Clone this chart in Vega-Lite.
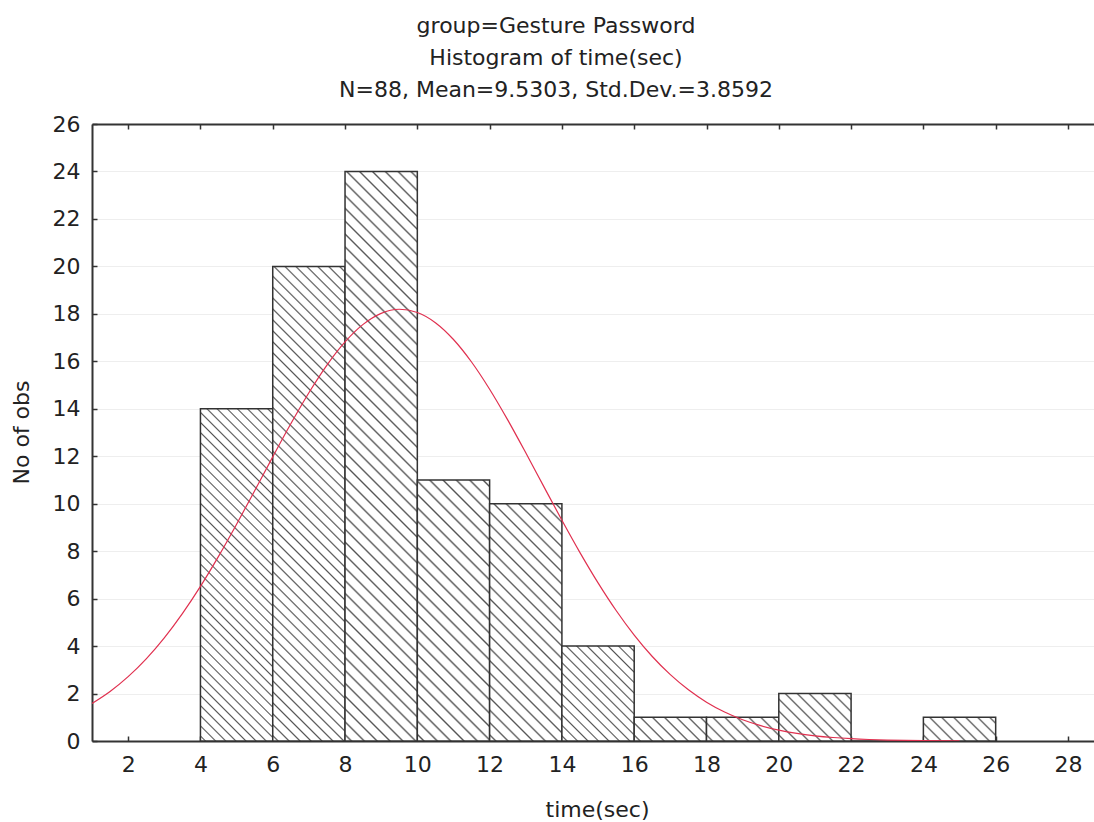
{
  "$schema": "https://vega.github.io/schema/vega-lite/v6.json",
  "width": 1002,
  "height": 617,
  "autosize": "none",
  "padding": {"left": 92, "top": 124, "right": 0, "bottom": 81},
  "background": "white",
  "config": {"view": {"stroke": null}, "font": "DejaVu Sans"},
  "title": {
    "text": ["group=Gesture Password", "Histogram of time(sec)", "N=88, Mean=9.5303, Std.Dev.=3.8592"],
    "anchor": "middle",
    "dx": -37,
    "fontSize": 22,
    "lineHeight": 32,
    "font": "DejaVu Sans",
    "fontWeight": "normal",
    "color": "#222222",
    "offset": 11
  },
  "datasets": {
    "bins": [
      {"bin_start": 4, "bin_end": 6, "count": 14},
      {"bin_start": 6, "bin_end": 8, "count": 20},
      {"bin_start": 8, "bin_end": 10, "count": 24},
      {"bin_start": 10, "bin_end": 12, "count": 11},
      {"bin_start": 12, "bin_end": 14, "count": 10},
      {"bin_start": 14, "bin_end": 16, "count": 4},
      {"bin_start": 16, "bin_end": 18, "count": 1},
      {"bin_start": 18, "bin_end": 20, "count": 1},
      {"bin_start": 20, "bin_end": 22, "count": 2},
      {"bin_start": 22, "bin_end": 24, "count": 0},
      {"bin_start": 24, "bin_end": 26, "count": 1}
    ],
    "curve": [
      {"time": 1, "fitted": 1.581}, {"time": 1.5, "fitted": 2.087}, {"time": 2, "fitted": 2.711},
      {"time": 2.5, "fitted": 3.461}, {"time": 3, "fitted": 4.346}, {"time": 3.5, "fitted": 5.367},
      {"time": 4, "fitted": 6.516}, {"time": 4.5, "fitted": 7.78}, {"time": 5, "fitted": 9.135},
      {"time": 5.5, "fitted": 10.546}, {"time": 6, "fitted": 11.973}, {"time": 6.5, "fitted": 13.367},
      {"time": 7, "fitted": 14.675}, {"time": 7.5, "fitted": 15.842}, {"time": 8, "fitted": 16.818},
      {"time": 8.5, "fitted": 17.556}, {"time": 9, "fitted": 18.022}, {"time": 9.5, "fitted": 18.193},
      {"time": 10, "fitted": 18.059}, {"time": 10.5, "fitted": 17.628}, {"time": 11, "fitted": 16.92},
      {"time": 11.5, "fitted": 15.971}, {"time": 12, "fitted": 14.824}, {"time": 12.5, "fitted": 13.531},
      {"time": 13, "fitted": 12.144}, {"time": 13.5, "fitted": 10.719}, {"time": 14, "fitted": 9.303},
      {"time": 14.5, "fitted": 7.94}, {"time": 15, "fitted": 6.664}, {"time": 15.5, "fitted": 5.499},
      {"time": 16, "fitted": 4.463}, {"time": 16.5, "fitted": 3.561}, {"time": 17, "fitted": 2.795},
      {"time": 17.5, "fitted": 2.157}, {"time": 18, "fitted": 1.637}, {"time": 18.5, "fitted": 1.221},
      {"time": 19, "fitted": 0.896}, {"time": 19.5, "fitted": 0.647}, {"time": 20, "fitted": 0.459},
      {"time": 20.5, "fitted": 0.32}, {"time": 21, "fitted": 0.22}, {"time": 21.5, "fitted": 0.148},
      {"time": 22, "fitted": 0.098}, {"time": 22.5, "fitted": 0.064}, {"time": 23, "fitted": 0.041},
      {"time": 24, "fitted": 0.016}, {"time": 25, "fitted": 0.006}
    ]
  },
  "layer": [
    {
      "data": {"name": "bins"},
      "mark": {"type": "rect", "stroke": "#333333", "strokeWidth": 1.5},
      "encoding": {
        "x": {
          "field": "bin_start", "type": "quantitative",
          "scale": {"domain": [1, 28.72], "nice": false, "zero": false},
          "axis": {
            "orient": "bottom",
            "values": [2, 4, 6, 8, 10, 12, 14, 16, 18, 20, 22, 24, 26, 28],
            "grid": false,
            "domainColor": "#333333", "domainWidth": 2,
            "tickColor": "#333333", "tickSize": -5, "tickWidth": 1.5,
            "labelFontSize": 22, "labelColor": "#222222", "labelPadding": 18,
            "labelFlush": false,
            "title": "time(sec)", "titleFontSize": 22, "titleFontWeight": "normal",
            "titleColor": "#222222", "titleX": 505, "titleY": 75, "titleBaseline": "alphabetic"
          }
        },
        "x2": {"field": "bin_end"},
        "y": {
          "field": "count", "type": "quantitative",
          "scale": {"domain": [0, 26], "nice": false},
          "axis": {
            "values": [0, 2, 4, 6, 8, 10, 12, 14, 16, 18, 20, 22, 24, 26],
            "grid": true, "gridColor": "#eeeeee", "gridWidth": 1,
            "domainColor": "#333333", "domainWidth": 2,
            "tickColor": "#333333", "tickSize": -5, "tickWidth": 1.5,
            "labelFontSize": 22, "labelColor": "#222222", "labelPadding": 17,
            "labelFlush": false,
            "title": "No of obs", "titleFontSize": 22, "titleFontWeight": "normal",
            "titleColor": "#222222", "titleX": -71, "titleY": 308, "titleAngle": -90,
            "titleBaseline": "middle", "titleAlign": "center"
          }
        },
        "fill": {
          "condition": [
            {"test": "datum.count === 24", "value": {"gradient": "linear", "x1": 0, "y1": 1, "x2": 0.14077, "y2": -0.10906, "stops": [
              {"offset":0.007,"color":"#fff"},{"offset":0.01,"color":"#555"},{"offset":0.013,"color":"#fff"},
              {"offset":0.027,"color":"#fff"},{"offset":0.03,"color":"#555"},{"offset":0.033,"color":"#fff"},
              {"offset":0.047,"color":"#fff"},{"offset":0.05,"color":"#555"},{"offset":0.053,"color":"#fff"},
              {"offset":0.067,"color":"#fff"},{"offset":0.07,"color":"#555"},{"offset":0.073,"color":"#fff"},
              {"offset":0.087,"color":"#fff"},{"offset":0.09,"color":"#555"},{"offset":0.093,"color":"#fff"},
              {"offset":0.107,"color":"#fff"},{"offset":0.11,"color":"#555"},{"offset":0.113,"color":"#fff"},
              {"offset":0.127,"color":"#fff"},{"offset":0.13,"color":"#555"},{"offset":0.133,"color":"#fff"},
              {"offset":0.147,"color":"#fff"},{"offset":0.15,"color":"#555"},{"offset":0.153,"color":"#fff"},
              {"offset":0.167,"color":"#fff"},{"offset":0.17,"color":"#555"},{"offset":0.173,"color":"#fff"},
              {"offset":0.187,"color":"#fff"},{"offset":0.19,"color":"#555"},{"offset":0.193,"color":"#fff"},
              {"offset":0.207,"color":"#fff"},{"offset":0.21,"color":"#555"},{"offset":0.213,"color":"#fff"},
              {"offset":0.227,"color":"#fff"},{"offset":0.23,"color":"#555"},{"offset":0.233,"color":"#fff"},
              {"offset":0.247,"color":"#fff"},{"offset":0.25,"color":"#555"},{"offset":0.253,"color":"#fff"},
              {"offset":0.267,"color":"#fff"},{"offset":0.27,"color":"#555"},{"offset":0.273,"color":"#fff"},
              {"offset":0.287,"color":"#fff"},{"offset":0.29,"color":"#555"},{"offset":0.293,"color":"#fff"},
              {"offset":0.307,"color":"#fff"},{"offset":0.31,"color":"#555"},{"offset":0.313,"color":"#fff"},
              {"offset":0.327,"color":"#fff"},{"offset":0.33,"color":"#555"},{"offset":0.333,"color":"#fff"},
              {"offset":0.347,"color":"#fff"},{"offset":0.35,"color":"#555"},{"offset":0.353,"color":"#fff"},
              {"offset":0.367,"color":"#fff"},{"offset":0.37,"color":"#555"},{"offset":0.373,"color":"#fff"},
              {"offset":0.387,"color":"#fff"},{"offset":0.39,"color":"#555"},{"offset":0.393,"color":"#fff"},
              {"offset":0.407,"color":"#fff"},{"offset":0.41,"color":"#555"},{"offset":0.413,"color":"#fff"},
              {"offset":0.427,"color":"#fff"},{"offset":0.43,"color":"#555"},{"offset":0.433,"color":"#fff"},
              {"offset":0.447,"color":"#fff"},{"offset":0.45,"color":"#555"},{"offset":0.453,"color":"#fff"},
              {"offset":0.467,"color":"#fff"},{"offset":0.47,"color":"#555"},{"offset":0.473,"color":"#fff"},
              {"offset":0.487,"color":"#fff"},{"offset":0.49,"color":"#555"},{"offset":0.493,"color":"#fff"},
              {"offset":0.507,"color":"#fff"},{"offset":0.51,"color":"#555"},{"offset":0.513,"color":"#fff"},
              {"offset":0.527,"color":"#fff"},{"offset":0.53,"color":"#555"},{"offset":0.533,"color":"#fff"},
              {"offset":0.547,"color":"#fff"},{"offset":0.55,"color":"#555"},{"offset":0.553,"color":"#fff"},
              {"offset":0.567,"color":"#fff"},{"offset":0.57,"color":"#555"},{"offset":0.573,"color":"#fff"},
              {"offset":0.587,"color":"#fff"},{"offset":0.59,"color":"#555"},{"offset":0.593,"color":"#fff"},
              {"offset":0.607,"color":"#fff"},{"offset":0.61,"color":"#555"},{"offset":0.613,"color":"#fff"},
              {"offset":0.627,"color":"#fff"},{"offset":0.63,"color":"#555"},{"offset":0.633,"color":"#fff"},
              {"offset":0.647,"color":"#fff"},{"offset":0.65,"color":"#555"},{"offset":0.653,"color":"#fff"},
              {"offset":0.667,"color":"#fff"},{"offset":0.67,"color":"#555"},{"offset":0.673,"color":"#fff"},
              {"offset":0.687,"color":"#fff"},{"offset":0.69,"color":"#555"},{"offset":0.693,"color":"#fff"},
              {"offset":0.707,"color":"#fff"},{"offset":0.71,"color":"#555"},{"offset":0.713,"color":"#fff"},
              {"offset":0.727,"color":"#fff"},{"offset":0.73,"color":"#555"},{"offset":0.733,"color":"#fff"},
              {"offset":0.747,"color":"#fff"},{"offset":0.75,"color":"#555"},{"offset":0.753,"color":"#fff"},
              {"offset":0.767,"color":"#fff"},{"offset":0.77,"color":"#555"},{"offset":0.773,"color":"#fff"},
              {"offset":0.787,"color":"#fff"},{"offset":0.79,"color":"#555"},{"offset":0.793,"color":"#fff"},
              {"offset":0.807,"color":"#fff"},{"offset":0.81,"color":"#555"},{"offset":0.813,"color":"#fff"},
              {"offset":0.827,"color":"#fff"},{"offset":0.83,"color":"#555"},{"offset":0.833,"color":"#fff"},
              {"offset":0.847,"color":"#fff"},{"offset":0.85,"color":"#555"},{"offset":0.853,"color":"#fff"},
              {"offset":0.867,"color":"#fff"},{"offset":0.87,"color":"#555"},{"offset":0.873,"color":"#fff"},
              {"offset":0.887,"color":"#fff"},{"offset":0.89,"color":"#555"},{"offset":0.893,"color":"#fff"},
              {"offset":0.907,"color":"#fff"},{"offset":0.91,"color":"#555"},{"offset":0.913,"color":"#fff"},
              {"offset":0.927,"color":"#fff"},{"offset":0.93,"color":"#555"},{"offset":0.933,"color":"#fff"},
              {"offset":0.947,"color":"#fff"},{"offset":0.95,"color":"#555"},{"offset":0.953,"color":"#fff"},
              {"offset":0.967,"color":"#fff"},{"offset":0.97,"color":"#555"},{"offset":0.973,"color":"#fff"},
              {"offset":0.987,"color":"#fff"},{"offset":0.99,"color":"#555"},{"offset":0.993,"color":"#fff"}
            ]}},
            {"test": "datum.count === 20", "value": {"gradient": "linear", "x1": 0, "y1": 1, "x2": 0.17153, "y2": -0.12618, "stops": [
              {"offset":0.007,"color":"#fff"},{"offset":0.01,"color":"#555"},{"offset":0.013,"color":"#fff"},
              {"offset":0.027,"color":"#fff"},{"offset":0.03,"color":"#555"},{"offset":0.033,"color":"#fff"},
              {"offset":0.047,"color":"#fff"},{"offset":0.05,"color":"#555"},{"offset":0.053,"color":"#fff"},
              {"offset":0.067,"color":"#fff"},{"offset":0.07,"color":"#555"},{"offset":0.073,"color":"#fff"},
              {"offset":0.087,"color":"#fff"},{"offset":0.09,"color":"#555"},{"offset":0.093,"color":"#fff"},
              {"offset":0.107,"color":"#fff"},{"offset":0.11,"color":"#555"},{"offset":0.113,"color":"#fff"},
              {"offset":0.127,"color":"#fff"},{"offset":0.13,"color":"#555"},{"offset":0.133,"color":"#fff"},
              {"offset":0.147,"color":"#fff"},{"offset":0.15,"color":"#555"},{"offset":0.153,"color":"#fff"},
              {"offset":0.167,"color":"#fff"},{"offset":0.17,"color":"#555"},{"offset":0.173,"color":"#fff"},
              {"offset":0.187,"color":"#fff"},{"offset":0.19,"color":"#555"},{"offset":0.193,"color":"#fff"},
              {"offset":0.207,"color":"#fff"},{"offset":0.21,"color":"#555"},{"offset":0.213,"color":"#fff"},
              {"offset":0.227,"color":"#fff"},{"offset":0.23,"color":"#555"},{"offset":0.233,"color":"#fff"},
              {"offset":0.247,"color":"#fff"},{"offset":0.25,"color":"#555"},{"offset":0.253,"color":"#fff"},
              {"offset":0.267,"color":"#fff"},{"offset":0.27,"color":"#555"},{"offset":0.273,"color":"#fff"},
              {"offset":0.287,"color":"#fff"},{"offset":0.29,"color":"#555"},{"offset":0.293,"color":"#fff"},
              {"offset":0.307,"color":"#fff"},{"offset":0.31,"color":"#555"},{"offset":0.313,"color":"#fff"},
              {"offset":0.327,"color":"#fff"},{"offset":0.33,"color":"#555"},{"offset":0.333,"color":"#fff"},
              {"offset":0.347,"color":"#fff"},{"offset":0.35,"color":"#555"},{"offset":0.353,"color":"#fff"},
              {"offset":0.367,"color":"#fff"},{"offset":0.37,"color":"#555"},{"offset":0.373,"color":"#fff"},
              {"offset":0.387,"color":"#fff"},{"offset":0.39,"color":"#555"},{"offset":0.393,"color":"#fff"},
              {"offset":0.407,"color":"#fff"},{"offset":0.41,"color":"#555"},{"offset":0.413,"color":"#fff"},
              {"offset":0.427,"color":"#fff"},{"offset":0.43,"color":"#555"},{"offset":0.433,"color":"#fff"},
              {"offset":0.447,"color":"#fff"},{"offset":0.45,"color":"#555"},{"offset":0.453,"color":"#fff"},
              {"offset":0.467,"color":"#fff"},{"offset":0.47,"color":"#555"},{"offset":0.473,"color":"#fff"},
              {"offset":0.487,"color":"#fff"},{"offset":0.49,"color":"#555"},{"offset":0.493,"color":"#fff"},
              {"offset":0.507,"color":"#fff"},{"offset":0.51,"color":"#555"},{"offset":0.513,"color":"#fff"},
              {"offset":0.527,"color":"#fff"},{"offset":0.53,"color":"#555"},{"offset":0.533,"color":"#fff"},
              {"offset":0.547,"color":"#fff"},{"offset":0.55,"color":"#555"},{"offset":0.553,"color":"#fff"},
              {"offset":0.567,"color":"#fff"},{"offset":0.57,"color":"#555"},{"offset":0.573,"color":"#fff"},
              {"offset":0.587,"color":"#fff"},{"offset":0.59,"color":"#555"},{"offset":0.593,"color":"#fff"},
              {"offset":0.607,"color":"#fff"},{"offset":0.61,"color":"#555"},{"offset":0.613,"color":"#fff"},
              {"offset":0.627,"color":"#fff"},{"offset":0.63,"color":"#555"},{"offset":0.633,"color":"#fff"},
              {"offset":0.647,"color":"#fff"},{"offset":0.65,"color":"#555"},{"offset":0.653,"color":"#fff"},
              {"offset":0.667,"color":"#fff"},{"offset":0.67,"color":"#555"},{"offset":0.673,"color":"#fff"},
              {"offset":0.687,"color":"#fff"},{"offset":0.69,"color":"#555"},{"offset":0.693,"color":"#fff"},
              {"offset":0.707,"color":"#fff"},{"offset":0.71,"color":"#555"},{"offset":0.713,"color":"#fff"},
              {"offset":0.727,"color":"#fff"},{"offset":0.73,"color":"#555"},{"offset":0.733,"color":"#fff"},
              {"offset":0.747,"color":"#fff"},{"offset":0.75,"color":"#555"},{"offset":0.753,"color":"#fff"},
              {"offset":0.767,"color":"#fff"},{"offset":0.77,"color":"#555"},{"offset":0.773,"color":"#fff"},
              {"offset":0.787,"color":"#fff"},{"offset":0.79,"color":"#555"},{"offset":0.793,"color":"#fff"},
              {"offset":0.807,"color":"#fff"},{"offset":0.81,"color":"#555"},{"offset":0.813,"color":"#fff"},
              {"offset":0.827,"color":"#fff"},{"offset":0.83,"color":"#555"},{"offset":0.833,"color":"#fff"},
              {"offset":0.847,"color":"#fff"},{"offset":0.85,"color":"#555"},{"offset":0.853,"color":"#fff"},
              {"offset":0.867,"color":"#fff"},{"offset":0.87,"color":"#555"},{"offset":0.873,"color":"#fff"},
              {"offset":0.887,"color":"#fff"},{"offset":0.89,"color":"#555"},{"offset":0.893,"color":"#fff"},
              {"offset":0.907,"color":"#fff"},{"offset":0.91,"color":"#555"},{"offset":0.913,"color":"#fff"},
              {"offset":0.927,"color":"#fff"},{"offset":0.93,"color":"#555"},{"offset":0.933,"color":"#fff"},
              {"offset":0.947,"color":"#fff"},{"offset":0.95,"color":"#555"},{"offset":0.953,"color":"#fff"},
              {"offset":0.967,"color":"#fff"},{"offset":0.97,"color":"#555"},{"offset":0.973,"color":"#fff"},
              {"offset":0.987,"color":"#fff"},{"offset":0.99,"color":"#555"},{"offset":0.993,"color":"#fff"}
            ]}},
            {"test": "datum.count === 14", "value": {"gradient": "linear", "x1": 0, "y1": 1, "x2": 0.25296, "y2": -0.16254, "stops": [
              {"offset":0.00875,"color":"#fff"},{"offset":0.0125,"color":"#555"},{"offset":0.01625,"color":"#fff"},
              {"offset":0.03375,"color":"#fff"},{"offset":0.0375,"color":"#555"},{"offset":0.04125,"color":"#fff"},
              {"offset":0.05875,"color":"#fff"},{"offset":0.0625,"color":"#555"},{"offset":0.06625,"color":"#fff"},
              {"offset":0.08375,"color":"#fff"},{"offset":0.0875,"color":"#555"},{"offset":0.09125,"color":"#fff"},
              {"offset":0.10875,"color":"#fff"},{"offset":0.1125,"color":"#555"},{"offset":0.11625,"color":"#fff"},
              {"offset":0.13375,"color":"#fff"},{"offset":0.1375,"color":"#555"},{"offset":0.14125,"color":"#fff"},
              {"offset":0.15875,"color":"#fff"},{"offset":0.1625,"color":"#555"},{"offset":0.16625,"color":"#fff"},
              {"offset":0.18375,"color":"#fff"},{"offset":0.1875,"color":"#555"},{"offset":0.19125,"color":"#fff"},
              {"offset":0.20875,"color":"#fff"},{"offset":0.2125,"color":"#555"},{"offset":0.21625,"color":"#fff"},
              {"offset":0.23375,"color":"#fff"},{"offset":0.2375,"color":"#555"},{"offset":0.24125,"color":"#fff"},
              {"offset":0.25875,"color":"#fff"},{"offset":0.2625,"color":"#555"},{"offset":0.26625,"color":"#fff"},
              {"offset":0.28375,"color":"#fff"},{"offset":0.2875,"color":"#555"},{"offset":0.29125,"color":"#fff"},
              {"offset":0.30875,"color":"#fff"},{"offset":0.3125,"color":"#555"},{"offset":0.31625,"color":"#fff"},
              {"offset":0.33375,"color":"#fff"},{"offset":0.3375,"color":"#555"},{"offset":0.34125,"color":"#fff"},
              {"offset":0.35875,"color":"#fff"},{"offset":0.3625,"color":"#555"},{"offset":0.36625,"color":"#fff"},
              {"offset":0.38375,"color":"#fff"},{"offset":0.3875,"color":"#555"},{"offset":0.39125,"color":"#fff"},
              {"offset":0.40875,"color":"#fff"},{"offset":0.4125,"color":"#555"},{"offset":0.41625,"color":"#fff"},
              {"offset":0.43375,"color":"#fff"},{"offset":0.4375,"color":"#555"},{"offset":0.44125,"color":"#fff"},
              {"offset":0.45875,"color":"#fff"},{"offset":0.4625,"color":"#555"},{"offset":0.46625,"color":"#fff"},
              {"offset":0.48375,"color":"#fff"},{"offset":0.4875,"color":"#555"},{"offset":0.49125,"color":"#fff"},
              {"offset":0.50875,"color":"#fff"},{"offset":0.5125,"color":"#555"},{"offset":0.51625,"color":"#fff"},
              {"offset":0.53375,"color":"#fff"},{"offset":0.5375,"color":"#555"},{"offset":0.54125,"color":"#fff"},
              {"offset":0.55875,"color":"#fff"},{"offset":0.5625,"color":"#555"},{"offset":0.56625,"color":"#fff"},
              {"offset":0.58375,"color":"#fff"},{"offset":0.5875,"color":"#555"},{"offset":0.59125,"color":"#fff"},
              {"offset":0.60875,"color":"#fff"},{"offset":0.6125,"color":"#555"},{"offset":0.61625,"color":"#fff"},
              {"offset":0.63375,"color":"#fff"},{"offset":0.6375,"color":"#555"},{"offset":0.64125,"color":"#fff"},
              {"offset":0.65875,"color":"#fff"},{"offset":0.6625,"color":"#555"},{"offset":0.66625,"color":"#fff"},
              {"offset":0.68375,"color":"#fff"},{"offset":0.6875,"color":"#555"},{"offset":0.69125,"color":"#fff"},
              {"offset":0.70875,"color":"#fff"},{"offset":0.7125,"color":"#555"},{"offset":0.71625,"color":"#fff"},
              {"offset":0.73375,"color":"#fff"},{"offset":0.7375,"color":"#555"},{"offset":0.74125,"color":"#fff"},
              {"offset":0.75875,"color":"#fff"},{"offset":0.7625,"color":"#555"},{"offset":0.76625,"color":"#fff"},
              {"offset":0.78375,"color":"#fff"},{"offset":0.7875,"color":"#555"},{"offset":0.79125,"color":"#fff"},
              {"offset":0.80875,"color":"#fff"},{"offset":0.8125,"color":"#555"},{"offset":0.81625,"color":"#fff"},
              {"offset":0.83375,"color":"#fff"},{"offset":0.8375,"color":"#555"},{"offset":0.84125,"color":"#fff"},
              {"offset":0.85875,"color":"#fff"},{"offset":0.8625,"color":"#555"},{"offset":0.86625,"color":"#fff"},
              {"offset":0.88375,"color":"#fff"},{"offset":0.8875,"color":"#555"},{"offset":0.89125,"color":"#fff"},
              {"offset":0.90875,"color":"#fff"},{"offset":0.9125,"color":"#555"},{"offset":0.91625,"color":"#fff"},
              {"offset":0.93375,"color":"#fff"},{"offset":0.9375,"color":"#555"},{"offset":0.94125,"color":"#fff"},
              {"offset":0.95875,"color":"#fff"},{"offset":0.9625,"color":"#555"},{"offset":0.96625,"color":"#fff"},
              {"offset":0.98375,"color":"#fff"},{"offset":0.9875,"color":"#555"},{"offset":0.99125,"color":"#fff"}
            ]}},
            {"test": "datum.count === 11", "value": {"gradient": "linear", "x1": 0, "y1": 1, "x2": 0.32844, "y2": -0.18599, "stops": [
              {"offset":0.014,"color":"#fff"},{"offset":0.02,"color":"#555"},{"offset":0.026,"color":"#fff"},
              {"offset":0.054,"color":"#fff"},{"offset":0.06,"color":"#555"},{"offset":0.066,"color":"#fff"},
              {"offset":0.094,"color":"#fff"},{"offset":0.1,"color":"#555"},{"offset":0.106,"color":"#fff"},
              {"offset":0.134,"color":"#fff"},{"offset":0.14,"color":"#555"},{"offset":0.146,"color":"#fff"},
              {"offset":0.174,"color":"#fff"},{"offset":0.18,"color":"#555"},{"offset":0.186,"color":"#fff"},
              {"offset":0.214,"color":"#fff"},{"offset":0.22,"color":"#555"},{"offset":0.226,"color":"#fff"},
              {"offset":0.254,"color":"#fff"},{"offset":0.26,"color":"#555"},{"offset":0.266,"color":"#fff"},
              {"offset":0.294,"color":"#fff"},{"offset":0.3,"color":"#555"},{"offset":0.306,"color":"#fff"},
              {"offset":0.334,"color":"#fff"},{"offset":0.34,"color":"#555"},{"offset":0.346,"color":"#fff"},
              {"offset":0.374,"color":"#fff"},{"offset":0.38,"color":"#555"},{"offset":0.386,"color":"#fff"},
              {"offset":0.414,"color":"#fff"},{"offset":0.42,"color":"#555"},{"offset":0.426,"color":"#fff"},
              {"offset":0.454,"color":"#fff"},{"offset":0.46,"color":"#555"},{"offset":0.466,"color":"#fff"},
              {"offset":0.494,"color":"#fff"},{"offset":0.5,"color":"#555"},{"offset":0.506,"color":"#fff"},
              {"offset":0.534,"color":"#fff"},{"offset":0.54,"color":"#555"},{"offset":0.546,"color":"#fff"},
              {"offset":0.574,"color":"#fff"},{"offset":0.58,"color":"#555"},{"offset":0.586,"color":"#fff"},
              {"offset":0.614,"color":"#fff"},{"offset":0.62,"color":"#555"},{"offset":0.626,"color":"#fff"},
              {"offset":0.654,"color":"#fff"},{"offset":0.66,"color":"#555"},{"offset":0.666,"color":"#fff"},
              {"offset":0.694,"color":"#fff"},{"offset":0.7,"color":"#555"},{"offset":0.706,"color":"#fff"},
              {"offset":0.734,"color":"#fff"},{"offset":0.74,"color":"#555"},{"offset":0.746,"color":"#fff"},
              {"offset":0.774,"color":"#fff"},{"offset":0.78,"color":"#555"},{"offset":0.786,"color":"#fff"},
              {"offset":0.814,"color":"#fff"},{"offset":0.82,"color":"#555"},{"offset":0.826,"color":"#fff"},
              {"offset":0.854,"color":"#fff"},{"offset":0.86,"color":"#555"},{"offset":0.866,"color":"#fff"},
              {"offset":0.894,"color":"#fff"},{"offset":0.9,"color":"#555"},{"offset":0.906,"color":"#fff"},
              {"offset":0.934,"color":"#fff"},{"offset":0.94,"color":"#555"},{"offset":0.946,"color":"#fff"},
              {"offset":0.974,"color":"#fff"},{"offset":0.98,"color":"#555"},{"offset":0.986,"color":"#fff"}
            ]}},
            {"test": "datum.count === 10", "value": {"gradient": "linear", "x1": 0, "y1": 1, "x2": 0.36367, "y2": -0.19384, "stops": [
              {"offset":0.014,"color":"#fff"},{"offset":0.02,"color":"#555"},{"offset":0.026,"color":"#fff"},
              {"offset":0.054,"color":"#fff"},{"offset":0.06,"color":"#555"},{"offset":0.066,"color":"#fff"},
              {"offset":0.094,"color":"#fff"},{"offset":0.1,"color":"#555"},{"offset":0.106,"color":"#fff"},
              {"offset":0.134,"color":"#fff"},{"offset":0.14,"color":"#555"},{"offset":0.146,"color":"#fff"},
              {"offset":0.174,"color":"#fff"},{"offset":0.18,"color":"#555"},{"offset":0.186,"color":"#fff"},
              {"offset":0.214,"color":"#fff"},{"offset":0.22,"color":"#555"},{"offset":0.226,"color":"#fff"},
              {"offset":0.254,"color":"#fff"},{"offset":0.26,"color":"#555"},{"offset":0.266,"color":"#fff"},
              {"offset":0.294,"color":"#fff"},{"offset":0.3,"color":"#555"},{"offset":0.306,"color":"#fff"},
              {"offset":0.334,"color":"#fff"},{"offset":0.34,"color":"#555"},{"offset":0.346,"color":"#fff"},
              {"offset":0.374,"color":"#fff"},{"offset":0.38,"color":"#555"},{"offset":0.386,"color":"#fff"},
              {"offset":0.414,"color":"#fff"},{"offset":0.42,"color":"#555"},{"offset":0.426,"color":"#fff"},
              {"offset":0.454,"color":"#fff"},{"offset":0.46,"color":"#555"},{"offset":0.466,"color":"#fff"},
              {"offset":0.494,"color":"#fff"},{"offset":0.5,"color":"#555"},{"offset":0.506,"color":"#fff"},
              {"offset":0.534,"color":"#fff"},{"offset":0.54,"color":"#555"},{"offset":0.546,"color":"#fff"},
              {"offset":0.574,"color":"#fff"},{"offset":0.58,"color":"#555"},{"offset":0.586,"color":"#fff"},
              {"offset":0.614,"color":"#fff"},{"offset":0.62,"color":"#555"},{"offset":0.626,"color":"#fff"},
              {"offset":0.654,"color":"#fff"},{"offset":0.66,"color":"#555"},{"offset":0.666,"color":"#fff"},
              {"offset":0.694,"color":"#fff"},{"offset":0.7,"color":"#555"},{"offset":0.706,"color":"#fff"},
              {"offset":0.734,"color":"#fff"},{"offset":0.74,"color":"#555"},{"offset":0.746,"color":"#fff"},
              {"offset":0.774,"color":"#fff"},{"offset":0.78,"color":"#555"},{"offset":0.786,"color":"#fff"},
              {"offset":0.814,"color":"#fff"},{"offset":0.82,"color":"#555"},{"offset":0.826,"color":"#fff"},
              {"offset":0.854,"color":"#fff"},{"offset":0.86,"color":"#555"},{"offset":0.866,"color":"#fff"},
              {"offset":0.894,"color":"#fff"},{"offset":0.9,"color":"#555"},{"offset":0.906,"color":"#fff"},
              {"offset":0.934,"color":"#fff"},{"offset":0.94,"color":"#555"},{"offset":0.946,"color":"#fff"},
              {"offset":0.974,"color":"#fff"},{"offset":0.98,"color":"#555"},{"offset":0.986,"color":"#fff"}
            ]}},
            {"test": "datum.count === 4", "value": {"gradient": "linear", "x1": 0, "y1": 1, "x2": 0.84912, "y2": -0.11493, "stops": [
              {"offset":0.021875,"color":"#fff"},{"offset":0.03125,"color":"#555"},{"offset":0.040625,"color":"#fff"},
              {"offset":0.084375,"color":"#fff"},{"offset":0.09375,"color":"#555"},{"offset":0.103125,"color":"#fff"},
              {"offset":0.146875,"color":"#fff"},{"offset":0.15625,"color":"#555"},{"offset":0.165625,"color":"#fff"},
              {"offset":0.209375,"color":"#fff"},{"offset":0.21875,"color":"#555"},{"offset":0.228125,"color":"#fff"},
              {"offset":0.271875,"color":"#fff"},{"offset":0.28125,"color":"#555"},{"offset":0.290625,"color":"#fff"},
              {"offset":0.334375,"color":"#fff"},{"offset":0.34375,"color":"#555"},{"offset":0.353125,"color":"#fff"},
              {"offset":0.396875,"color":"#fff"},{"offset":0.40625,"color":"#555"},{"offset":0.415625,"color":"#fff"},
              {"offset":0.459375,"color":"#fff"},{"offset":0.46875,"color":"#555"},{"offset":0.478125,"color":"#fff"},
              {"offset":0.521875,"color":"#fff"},{"offset":0.53125,"color":"#555"},{"offset":0.540625,"color":"#fff"},
              {"offset":0.584375,"color":"#fff"},{"offset":0.59375,"color":"#555"},{"offset":0.603125,"color":"#fff"},
              {"offset":0.646875,"color":"#fff"},{"offset":0.65625,"color":"#555"},{"offset":0.665625,"color":"#fff"},
              {"offset":0.709375,"color":"#fff"},{"offset":0.71875,"color":"#555"},{"offset":0.728125,"color":"#fff"},
              {"offset":0.771875,"color":"#fff"},{"offset":0.78125,"color":"#555"},{"offset":0.790625,"color":"#fff"},
              {"offset":0.834375,"color":"#fff"},{"offset":0.84375,"color":"#555"},{"offset":0.853125,"color":"#fff"},
              {"offset":0.896875,"color":"#fff"},{"offset":0.90625,"color":"#555"},{"offset":0.915625,"color":"#fff"},
              {"offset":0.959375,"color":"#fff"},{"offset":0.96875,"color":"#555"},{"offset":0.978125,"color":"#fff"}
            ]}},
            {"test": "datum.count === 2", "value": {"gradient": "linear", "x1": 0, "y1": 1, "x2": 1.15758, "y2": 0.24002, "stops": [
              {"offset":0.035,"color":"#fff"},{"offset":0.05,"color":"#555"},{"offset":0.065,"color":"#fff"},
              {"offset":0.135,"color":"#fff"},{"offset":0.15,"color":"#555"},{"offset":0.165,"color":"#fff"},
              {"offset":0.235,"color":"#fff"},{"offset":0.25,"color":"#555"},{"offset":0.265,"color":"#fff"},
              {"offset":0.335,"color":"#fff"},{"offset":0.35,"color":"#555"},{"offset":0.365,"color":"#fff"},
              {"offset":0.435,"color":"#fff"},{"offset":0.45,"color":"#555"},{"offset":0.465,"color":"#fff"},
              {"offset":0.535,"color":"#fff"},{"offset":0.55,"color":"#555"},{"offset":0.565,"color":"#fff"},
              {"offset":0.635,"color":"#fff"},{"offset":0.65,"color":"#555"},{"offset":0.665,"color":"#fff"},
              {"offset":0.735,"color":"#fff"},{"offset":0.75,"color":"#555"},{"offset":0.765,"color":"#fff"},
              {"offset":0.835,"color":"#fff"},{"offset":0.85,"color":"#555"},{"offset":0.865,"color":"#fff"},
              {"offset":0.935,"color":"#fff"},{"offset":0.95,"color":"#555"},{"offset":0.965,"color":"#fff"}
            ]}},
            {"test": "datum.count === 1", "value": {"gradient": "linear", "x1": 0, "y1": 1, "x2": 1.19908, "y2": 0.60639, "stops": [
              {"offset":0.04375,"color":"#fff"},{"offset":0.0625,"color":"#555"},{"offset":0.08125,"color":"#fff"},
              {"offset":0.16875,"color":"#fff"},{"offset":0.1875,"color":"#555"},{"offset":0.20625,"color":"#fff"},
              {"offset":0.29375,"color":"#fff"},{"offset":0.3125,"color":"#555"},{"offset":0.33125,"color":"#fff"},
              {"offset":0.41875,"color":"#fff"},{"offset":0.4375,"color":"#555"},{"offset":0.45625,"color":"#fff"},
              {"offset":0.54375,"color":"#fff"},{"offset":0.5625,"color":"#555"},{"offset":0.58125,"color":"#fff"},
              {"offset":0.66875,"color":"#fff"},{"offset":0.6875,"color":"#555"},{"offset":0.70625,"color":"#fff"},
              {"offset":0.79375,"color":"#fff"},{"offset":0.8125,"color":"#555"},{"offset":0.83125,"color":"#fff"},
              {"offset":0.91875,"color":"#fff"},{"offset":0.9375,"color":"#555"},{"offset":0.95625,"color":"#fff"}
            ]}}
          ],
          "value": "#ffffff"
        }
      }
    },
    {
      "data": {"name": "curve"},
      "mark": {"type": "line", "color": "#e0304f", "strokeWidth": 1.2, "clip": true, "interpolate": "monotone"},
      "encoding": {
        "x": {
          "field": "time", "type": "quantitative",
          "scale": {"domain": [1, 28.72], "nice": false, "zero": false},
          "axis": {
            "orient": "top",
            "values": [2, 4, 6, 8, 10, 12, 14, 16, 18, 20, 22, 24, 26, 28],
            "grid": false, "labels": false, "title": null,
            "domainColor": "#333333", "domainWidth": 2,
            "tickColor": "#333333", "tickSize": -5, "tickWidth": 1.5
          }
        },
        "y": {"field": "fitted", "type": "quantitative"}
      }
    }
  ],
  "resolve": {"axis": {"x": "independent"}}
}
